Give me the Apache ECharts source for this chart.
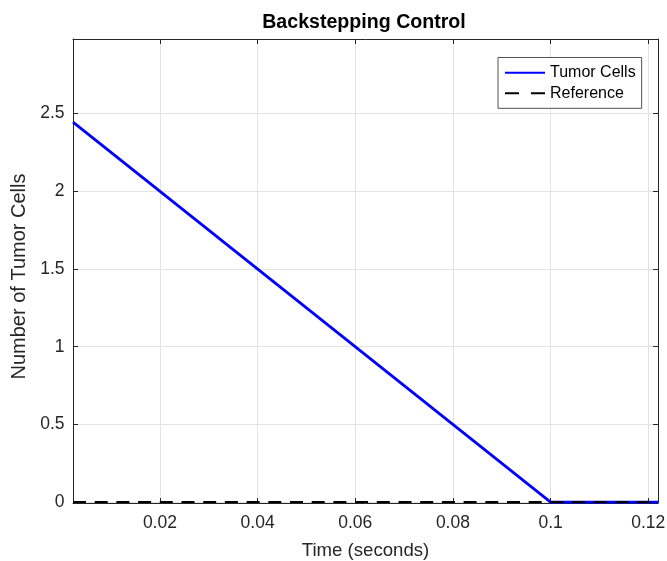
<!DOCTYPE html>
<html>
<head>
<meta charset="utf-8">
<script src="https://cdn.jsdelivr.net/npm/echarts@6/dist/echarts.min.js"></script>
<style>
  html, body { margin: 0; padding: 0; background: #fff; }
  #chart { width: 667px; height: 561px; }
</style>
</head>
<body>
<div id="chart"></div>
<script>
// Simulated time points (seconds) and tumor cell count
const timeSec = [0.0022, 0.1, 0.122];
const tumorCells = [2.445, 0, 0];

// Constant reference level
const refTime = [0.0022, 0.122];
const refCells = [0, 0];

// Axis ticks
const xTicks = [0.02, 0.04, 0.06, 0.08, 0.1, 0.12];
const yTicks = [0, 0.5, 1, 1.5, 2, 2.5];

const axisColor = '#262626';
const gridColor = '#e3e3e3';
const fontFamily = '"Liberation Sans", Arial, Helvetica, sans-serif';

const pairs = (xs, ys) => xs.map((x, i) => [x, ys[i]]);
const fmt = v => String(parseFloat(v.toFixed(4)));

const chart = echarts.init(document.getElementById('chart'), null, { renderer: 'canvas' });

// Shared settings for the boxed frame (ticks point inward on all four sides)
const xBase = {
  type: 'value',
  min: 0.0022,
  max: 0.122,
  axisLine: { show: true, onZero: false, lineStyle: { color: axisColor, width: 1 } },
  axisTick: { show: true, inside: true, length: 5, customValues: xTicks, lineStyle: { color: axisColor } },
  splitLine: { show: false },
  axisLabel: { show: false }
};
const yBase = {
  type: 'value',
  min: -0.006,
  max: 2.98,
  axisLine: { show: true, onZero: false, lineStyle: { color: axisColor, width: 1 } },
  axisTick: { show: true, inside: true, length: 5, customValues: yTicks, lineStyle: { color: axisColor } },
  splitLine: { show: false },
  axisLabel: { show: false }
};

chart.setOption({
  animation: false,
  backgroundColor: '#fff',
  title: {
    text: 'Backstepping Control',
    left: 364,
    textAlign: 'center',
    top: 12.5,
    padding: 0,
    textStyle: { fontFamily, fontSize: 19.6, fontWeight: 'bold', color: '#000' }
  },
  grid: { left: 73, right: 9, top: 39, bottom: 58, containLabel: false, outerBoundsMode: 'none' },
  legend: {
    orient: 'vertical',
    left: 498,
    top: 57.5,
    padding: [7.2, 6, 7, 6],
    itemGap: 4.6,
    itemWidth: 40,
    itemHeight: 16,
    backgroundColor: '#fff',
    borderColor: axisColor,
    borderWidth: 0.8,
    borderRadius: 0,
    itemStyle: { opacity: 0 },
    textStyle: { fontFamily, fontSize: 16, color: '#000' },
    data: [
      { name: 'Tumor Cells' },
      { name: 'Reference', lineStyle: { type: [14, 12], width: 2 } }
    ]
  },
  xAxis: [
    Object.assign({}, xBase, {
      position: 'bottom',
      name: 'Time (seconds)',
      nameLocation: 'middle',
      nameGap: 38.5,
      nameTextStyle: { fontFamily, fontSize: 18.6, color: axisColor },
      splitLine: { show: true, lineStyle: { color: gridColor, width: 1 } },
      axisLabel: {
        show: true,
        customValues: xTicks,
        margin: 11.5,
        fontFamily, fontSize: 17.5, color: axisColor,
        formatter: fmt
      }
    }),
    Object.assign({}, xBase, { position: 'top' })
  ],
  yAxis: [
    Object.assign({}, yBase, {
      position: 'left',
      name: 'Number of Tumor Cells',
      nameLocation: 'middle',
      nameGap: 39,
      nameTextStyle: { fontFamily, fontSize: 20, color: axisColor, padding: [0, 11, 0, 0] },
      splitLine: { show: true, lineStyle: { color: gridColor, width: 1 } },
      axisLabel: {
        show: true,
        customValues: yTicks,
        margin: 8.5,
        fontFamily, fontSize: 17.5, color: axisColor,
        formatter: fmt
      }
    }),
    Object.assign({}, yBase, { position: 'right' })
  ],
  series: [
    {
      name: 'Tumor Cells',
      type: 'line',
      xAxisIndex: 0,
      yAxisIndex: 0,
      data: pairs(timeSec, tumorCells),
      symbol: 'none',
      color: '#0000ff',
      lineStyle: { color: '#0000ff', width: 2.8 },
      z: 3
    },
    {
      name: 'Reference',
      type: 'line',
      xAxisIndex: 0,
      yAxisIndex: 0,
      data: pairs(refTime, refCells),
      symbol: 'none',
      color: '#000',
      lineStyle: { color: '#000', width: 2, type: [13, 8.7] },
      z: 4
    }
  ]
});
</script>
</body>
</html>
